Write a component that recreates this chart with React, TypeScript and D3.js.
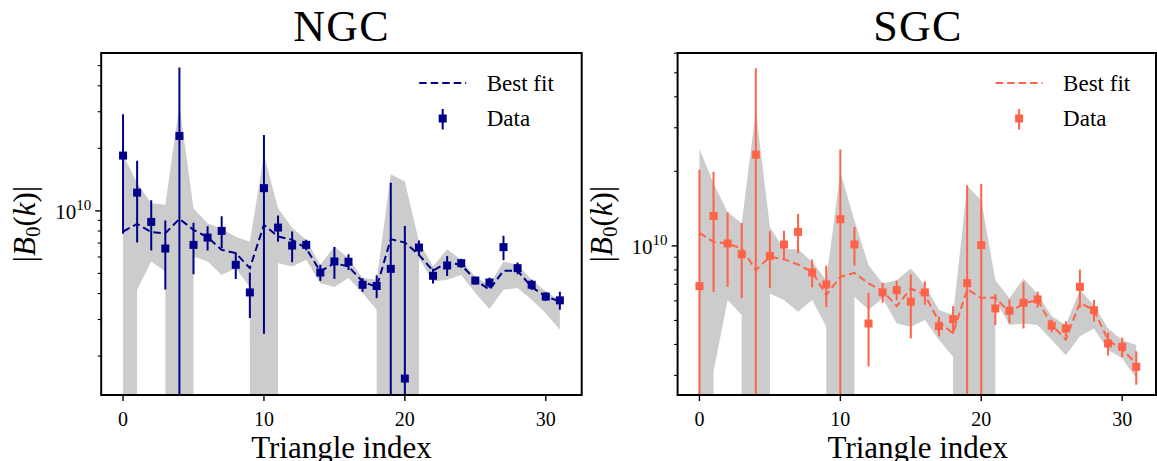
import React from 'react';
import * as d3 from 'd3';

// triangle configurations on the x axis
const triangleIndex = [
  0, 1, 2, 3, 4, 5, 6, 7, 8, 9, 10, 11, 12, 13, 14, 15,
  16, 17, 18, 19, 20, 21, 22, 23, 24, 25, 26, 27, 28, 29, 30, 31,
];
const xTicks = [0, 10, 20, 30];

// all |B0(k)| values below are in units of 1e10, 0 = non-positive (clipped on log axis)
const ngcData = [
  1.845, 1.224, 0.885, 0.659, 2.294, 0.686, 0.744, 0.801, 0.55, 0.405, 1.286,
  0.831, 0.681, 0.686, 0.505, 0.571, 0.569, 0.441, 0.435, 0.526, 0.156, 0.666,
  0.487, 0.546, 0.56, 0.462, 0.452, 0.669, 0.53, 0.441, 0.387, 0.371,
];
const ngcErr = [
  1.07, 0.52, 0.24, 0.24, 2.6, 0.19, 0.1, 0.14, 0.08, 0.1, 1.03,
  0.12, 0.115, 0.04, 0.045, 0.1, 0.05, 0.033, 0.055, 0.84, 0.69, 0.055,
  0.04, 0.06, 0.028, 0.02, 0.025, 0.09, 0.035, 0.025, 0.019, 0.037,
];
const ngcFit = [
  0.795, 0.866, 0.79, 0.78, 0.915, 0.81, 0.747, 0.649, 0.626, 0.53, 0.857,
  0.752, 0.726, 0.66, 0.511, 0.56, 0.54, 0.457, 0.43, 0.731, 0.704, 0.614,
  0.515, 0.564, 0.55, 0.466, 0.417, 0.515, 0.515, 0.43, 0.387, 0.367,
];
const ngcBandHi = [
  1.86, 1.36, 1.089, 1.069, 3.23, 1.03, 0.873, 0.82, 0.75, 0.71, 1.86,
  1.03, 0.83, 0.726, 0.55, 0.674, 0.592, 0.475, 0.466, 1.5, 1.383, 0.712,
  0.54, 0.654, 0.581, 0.48, 0.441, 0.571, 0.55, 0.466, 0.41, 0.37,
];
const ngcBandLo = [
  0, 0.417, 0.571, 0.511, 0, 0.603, 0.571, 0.492, 0.53, 0.43, 0,
  0.56, 0.54, 0.581, 0.449, 0.43, 0.475, 0.402, 0.334, 0, 0, 0.592,
  0.457, 0.466, 0.492, 0.402, 0.337, 0.417, 0.425, 0.373, 0.322, 0.268,
];

const sgcData = [
  0.688, 1.321, 1.023, 0.926, 2.336, 0.911, 1.013, 1.139, 0.781, 0.699, 1.281,
  1.013, 0.486, 0.649, 0.663, 0.595, 0.649, 0.474, 0.506, 0.707, 1.007, 0.559,
  0.547, 0.589, 0.608, 0.476, 0.464, 0.683, 0.55, 0.404, 0.391, 0.325,
];
const sgcErr = [
  1.34, 0.67, 0.34, 0.31, 2.88, 0.235, 0.137, 0.205, 0.1, 0.133, 1.17,
  0.18, 0.16, 0.06, 0.06, 0.172, 0.07, 0.043, 0.065, 1.05, 0.77, 0.08,
  0.06, 0.125, 0.045, 0.028, 0.032, 0.12, 0.055, 0.043, 0.035, 0.05,
];
const sgcFit = [
  1.128, 1.038, 1.023, 0.976, 0.798, 0.903, 0.884, 0.841, 0.786, 0.633, 0.75,
  0.778, 0.705, 0.659, 0.571, 0.673, 0.633, 0.494, 0.443, 0.669, 0.616, 0.619,
  0.537, 0.586, 0.604, 0.479, 0.419, 0.589, 0.55, 0.417, 0.38, 0.336,
];
const sgcBandHi = [
  2.47, 1.785, 1.371, 1.231, 3.53, 1.193, 0.97, 0.97, 0.862, 0.727, 1.99,
  1.27, 0.836, 0.705, 0.727, 0.81, 0.694, 0.551, 0.526, 1.745, 1.53, 0.727,
  0.614, 0.739, 0.639, 0.52, 0.479, 0.663, 0.576, 0.464, 0.417, 0.398,
];
const sgcBandLo = [
  0, 0.31, 0.604, 0.526, 0, 0.643, 0.604, 0.542, 0.604, 0.471, 0,
  0.623, 0.551, 0.614, 0.486, 0.471, 0.502, 0.417, 0.357, 0, 0, 0.604,
  0.479, 0.486, 0.479, 0.417, 0.362, 0.432, 0.464, 0.38, 0.352, 0.292,
];

const FONT = '"Liberation Serif", "DejaVu Serif", serif';
const TOP = 53;
const BOTTOM = 395;
const WIDTH = 480.5;
const PAGE_W = 1157;

type PanelProps = {
  id: string;
  title: string;
  color: string;
  left: number;
  yDomain: [number, number];
  data: number[];
  err: number[];
  fit: number[];
  lo: number[];
  hi: number[];
};

function Panel({ id, title, color, left, yDomain, data, err, fit, lo, hi }: PanelProps) {
  const right = left + WIDTH;
  // the figure was cropped tight, keep the right spine inside the page
  const spineRight = Math.min(right, PAGE_W - 1);
  const x = d3.scaleLinear().domain([-1.55, 32.55]).range([left, right]);
  const y = d3.scaleLog().domain(yDomain).range([BOTTOM, TOP]);
  // log axis: non-positive values are pushed far below the axes, like matplotlib's clip
  const yy = (v: number) => (v > 0 ? y(v) : BOTTOM + 1e5);

  const area = d3
    .area<number>()
    .x((_, i) => x(triangleIndex[i]))
    .y0((_, i) => yy(lo[i]))
    .y1((_, i) => yy(hi[i]));
  const line = d3
    .line<number>()
    .x((_, i) => x(triangleIndex[i]))
    .y(d => yy(d));

  const yTicks = y.ticks().filter(t => t >= yDomain[0] && t <= yDomain[1] * 1.001);
  const cx = (left + right) / 2;
  const cy = (TOP + BOTTOM) / 2;
  const legRight = right;

  return (
    <g>
      <defs>
        <clipPath id={id}>
          <rect x={left} y={TOP} width={spineRight - left} height={BOTTOM - TOP} />
        </clipPath>
      </defs>
      <g clipPath={`url(#${id})`}>
        <path d={area(lo) || ''} fill="#cccccc" stroke="none" />
        <path
          d={line(fit) || ''}
          fill="none"
          stroke={color}
          strokeWidth={2}
          strokeDasharray="7.5,4"
        />
        {data.map((v, i) => (
          <g key={i}>
            <line
              x1={x(triangleIndex[i])}
              x2={x(triangleIndex[i])}
              y1={yy(v - err[i])}
              y2={yy(v + err[i])}
              stroke={color}
              strokeWidth={2}
            />
            <rect
              x={x(triangleIndex[i]) - 4}
              y={yy(v) - 4}
              width={8}
              height={8}
              fill={color}
            />
          </g>
        ))}
      </g>

      {/* spines */}
      <rect
        x={left}
        y={TOP}
        width={spineRight - left}
        height={BOTTOM - TOP}
        fill="none"
        stroke="#000"
        strokeWidth={2}
      />

      {/* x axis */}
      {xTicks.map(t => (
        <g key={t}>
          <line x1={x(t)} x2={x(t)} y1={BOTTOM} y2={BOTTOM + 6} stroke="#000" strokeWidth={1.4} />
          <text
            x={x(t)}
            y={425.5}
            textAnchor="middle"
            fontFamily={FONT}
            fontSize={20}
          >
            {t}
          </text>
        </g>
      ))}
      <text x={cx} y={458} textAnchor="middle" fontFamily={FONT} fontSize={31}>
        Triangle index
      </text>

      {/* y axis (log) */}
      {yTicks.map(t => {
        const major = Math.abs(t - 1) < 1e-9;
        return (
          <line
            key={t}
            x1={left}
            x2={left - (major ? 6 : 3.5)}
            y1={y(t)}
            y2={y(t)}
            stroke="#000"
            strokeWidth={major ? 1.4 : 1.1}
          />
        );
      })}
      <text x={left - 10} y={y(1) + 8} textAnchor="end" fontFamily={FONT} fontSize={21}>
        10
        <tspan fontSize={15} dy={-9}>
          10
        </tspan>
      </text>
      <text
        transform={`translate(${left - 66},${cy}) rotate(-90)`}
        textAnchor="middle"
        fontFamily={FONT}
        fontSize={31}
      >
        |<tspan fontStyle="italic">B</tspan>
        <tspan fontSize={21} dy={5}>
          0
        </tspan>
        <tspan dy={-5}>(</tspan>
        <tspan fontStyle="italic">k</tspan>)|
      </text>

      {/* title */}
      <text
        x={cx}
        y={41}
        textAnchor="middle"
        fontFamily={FONT}
        fontSize={44}
        letterSpacing={1.2}
      >
        {title}
      </text>

      {/* legend */}
      <line
        x1={legRight - 162.5}
        x2={legRight - 115.5}
        y1={83}
        y2={83}
        stroke={color}
        strokeWidth={2}
        strokeDasharray="7.5,4"
      />
      <line
        x1={legRight - 139}
        x2={legRight - 139}
        y1={109}
        y2={129.5}
        stroke={color}
        strokeWidth={2}
      />
      <rect x={legRight - 143} y={114.5} width={8} height={8} fill={color} />
      <text x={legRight - 95} y={91} fontFamily={FONT} fontSize={23}>
        Best fit
      </text>
      <text x={legRight - 95} y={126} fontFamily={FONT} fontSize={23}>
        Data
      </text>
    </g>
  );
}

export default function App() {
  return (
    <svg
      width={PAGE_W}
      height={461}
      style={{ position: 'absolute', left: 0, top: 0, background: '#fff' }}
    >
      <Panel
        id="ngc"
        title="NGC"
        color="#00008b"
        left={101.2}
        yDomain={[0.13, 5.75]}
        data={ngcData}
        err={ngcErr}
        fit={ngcFit}
        lo={ngcBandLo}
        hi={ngcBandHi}
      />
      <Panel
        id="sgc"
        title="SGC"
        color="#ff6347"
        left={677.6}
        yDomain={[0.25, 6.01]}
        data={sgcData}
        err={sgcErr}
        fit={sgcFit}
        lo={sgcBandLo}
        hi={sgcBandHi}
      />
    </svg>
  );
}
